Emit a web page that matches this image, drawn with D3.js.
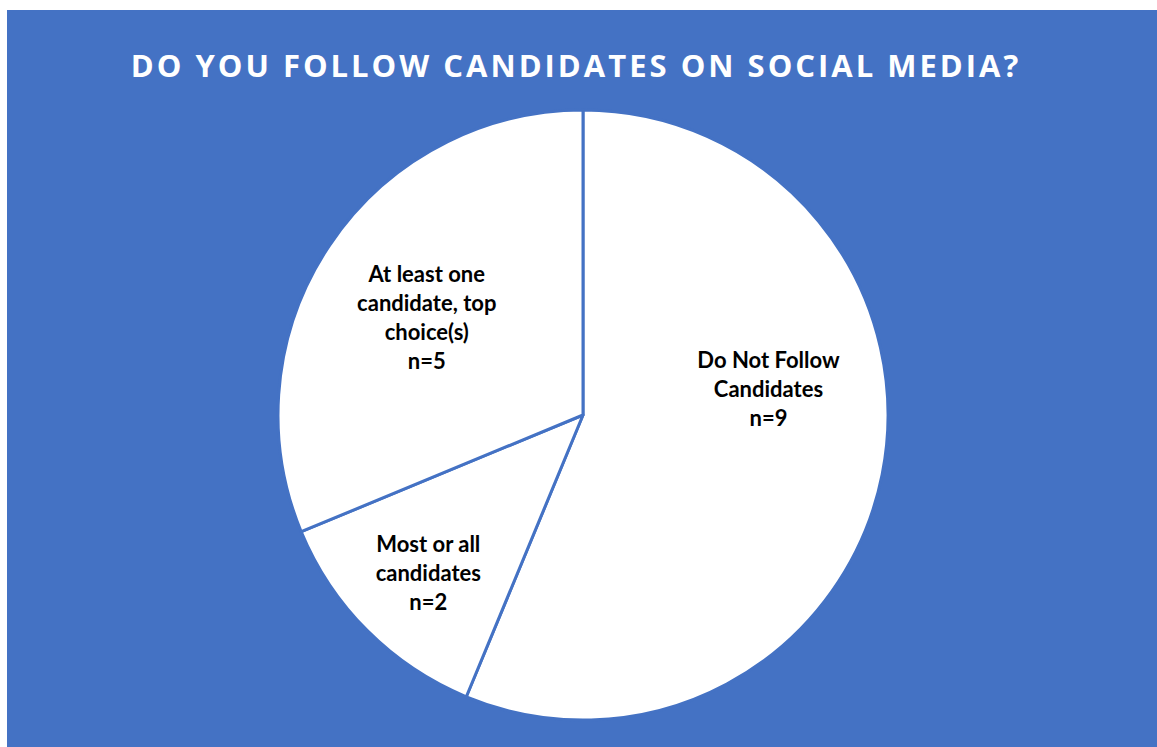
<!DOCTYPE html>
<html>
<head>
<meta charset="utf-8">
<script src="https://d3js.org/d3.v7.min.js"></script>
<style>
  body { margin: 0; background: #fff; }
  svg { display: block; }
</style>
</head>
<body>
<div id="chart"></div>
<script>
var width = 1157, height = 747;
var categories = ["Do Not Follow Candidates", "Most or all candidates", "At least one candidate, top choice(s)"];
var values = [9, 2, 5];
var labelLines = [
  ["Do Not Follow", "Candidates", "n=9"],
  ["Most or all", "candidates", "n=2"],
  ["At least one", "candidate, top", "choice(s)", "n=5"]
];
var title = "DO YOU FOLLOW CANDIDATES ON SOCIAL MEDIA?";

var blue = "#4472C4";
var cx = 583, cy = 415, radius = 305;

var svg = d3.select("#chart")
    .append("svg")
    .attr("width", width)
    .attr("height", height);

svg.append("rect")
    .attr("x", 7).attr("y", 10)
    .attr("width", width - 7).attr("height", height - 10)
    .attr("fill", blue);

svg.append("text")
    .attr("x", 576)
    .attr("y", 77)
    .attr("text-anchor", "middle")
    .attr("font-family", "Open Sans, sans-serif")
    .attr("font-weight", "700")
    .attr("font-size", "31px")
    .attr("letter-spacing", "3px")
    .attr("fill", "#ffffff")
    .text(title);

var data = categories.map(function(c, i) { return { name: c, value: values[i], lines: labelLines[i] }; });

var pie = d3.pie().sort(null).value(function(d) { return d.value; });
var arc = d3.arc().innerRadius(0).outerRadius(radius);
var labelArc = d3.arc().innerRadius(radius * 0.62).outerRadius(radius * 0.62);

var g = svg.append("g").attr("transform", "translate(" + cx + "," + cy + ")");

var slices = g.selectAll("g.slice")
    .data(pie(data))
    .enter()
    .append("g").attr("class", "slice");

slices.append("path")
    .attr("d", arc)
    .attr("fill", "#ffffff")
    .attr("stroke", blue)
    .attr("stroke-width", 3)
    .attr("stroke-linejoin", "round");

// label positions nudged per slice
var labelOffsets = [[0, -62], [-21, 25], [1, 9]];
var lineH = 29;

slices.append("text")
    .attr("text-anchor", "middle")
    .attr("font-family", "Lato, sans-serif")
    .attr("font-weight", "700")
    .attr("font-size", "22px")
    .attr("fill", "#000000")
    .attr("transform", function(d, i) {
        var c = labelArc.centroid(d);
        var n = d.data.lines.length;
        return "translate(" + (c[0] + labelOffsets[i][0]) + "," + (c[1] - (n - 1) * lineH / 2 + 7 + labelOffsets[i][1]) + ")";
    })
    .selectAll("tspan")
    .data(function(d) { return d.data.lines; })
    .enter()
    .append("tspan")
    .attr("x", 0)
    .attr("dy", function(d, i) { return i === 0 ? 0 : lineH; })
    .text(function(d) { return d; });
</script>
</body>
</html>
